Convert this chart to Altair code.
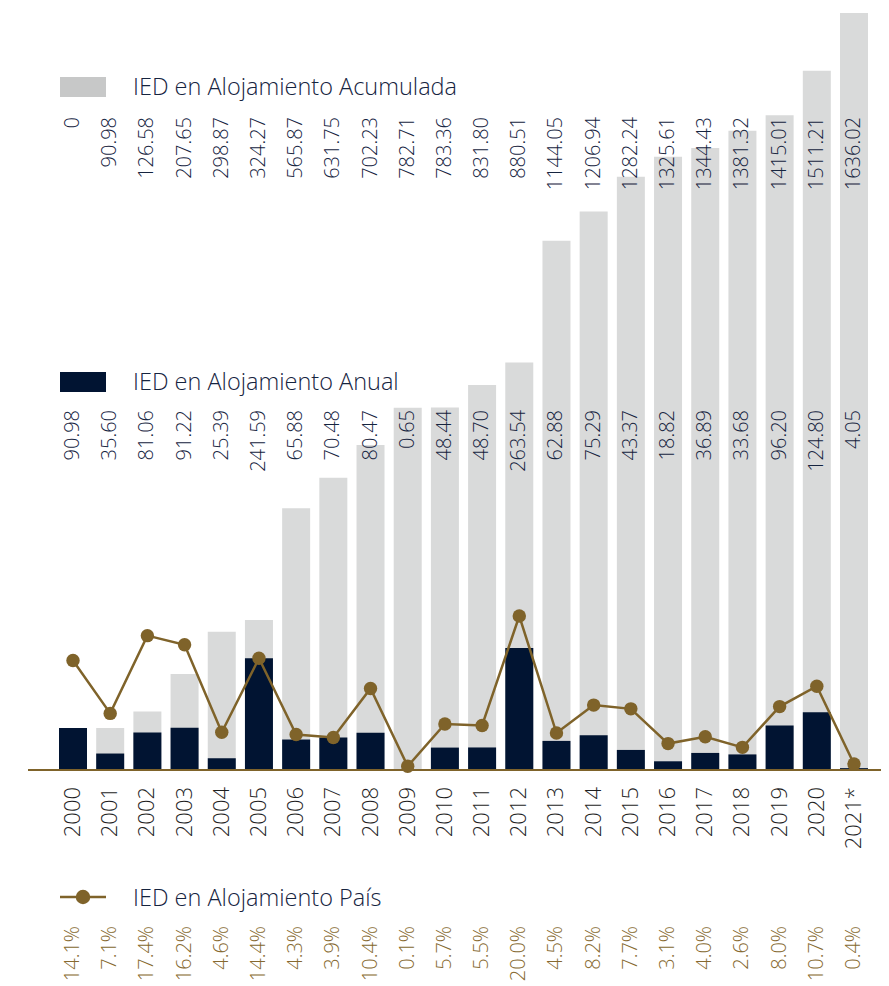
import altair as alt
import pandas as pd

years = ["2000", "2001", "2002", "2003", "2004", "2005", "2006", "2007", "2008", "2009", "2010",
         "2011", "2012", "2013", "2014", "2015", "2016", "2017", "2018", "2019", "2020", "2021*"]
acumulada = [0, 90.98, 126.58, 207.65, 298.87, 324.27, 565.87, 631.75, 702.23, 782.71, 783.36,
             831.80, 880.51, 1144.05, 1206.94, 1282.24, 1325.61, 1344.43, 1381.32, 1415.01, 1511.21, 1636.02]
anual = [90.98, 35.60, 81.06, 91.22, 25.39, 241.59, 65.88, 70.48, 80.47, 0.65, 48.44,
         48.70, 263.54, 62.88, 75.29, 43.37, 18.82, 36.89, 33.68, 96.20, 124.80, 4.05]
pais = [14.1, 7.1, 17.4, 16.2, 4.6, 14.4, 4.3, 3.9, 10.4, 0.1, 5.7,
        5.5, 20.0, 4.5, 8.2, 7.7, 3.1, 4.0, 2.6, 8.0, 10.7, 0.4]

legend_labels = ["IED en Alojamiento Acumulada", "IED en Alojamiento Anual", "IED en Alojamiento País"]

GRAY = "#d9dada"
GRAY_SW = "#c7c8c8"
NAVY = "#011432"
GOLD = "#7f632a"
GOLD_TXT = "#86692f"
TXT = "#16243f"
FONT = "Open Sans"
FS = 20

df = pd.DataFrame({
    "year": years,
    "acum": acumulada,
    "anual": anual,
    "pais": pais,
})
df["acum_lbl"] = ["0" if v == 0 else f"{v:.2f}" for v in acumulada]
df["anual_lbl"] = [f"{v:.2f}" for v in anual]
df["pais_lbl"] = [f"{v:.1f}%" for v in pais]

xenc = alt.X("year:N", sort=years, axis=None,
             scale=alt.Scale(range=[31, 840], paddingInner=0.247, paddingOuter=0))
ybar = alt.Scale(domain=[0, 1636.02], nice=False, zero=True)

base = alt.Chart(df)

gray = base.mark_bar(color=GRAY).encode(x=xenc, y=alt.Y("acum:Q", scale=ybar, axis=None))
navy = base.mark_bar(color=NAVY).encode(x=xenc, y=alt.Y("anual:Q", scale=ybar, axis=None))

one = pd.DataFrame({"k": [0]})
baseline = alt.Chart(one).mark_rule(color=GOLD, strokeWidth=2).encode(
    x=alt.value(0), x2=alt.value(853), y=alt.value(757))

ypct = alt.Y("pais:Q", axis=None, scale=alt.Scale(domain=[-0.4, 99.9], nice=False, zero=False))
line = base.mark_line(color=GOLD, strokeWidth=2.5).encode(x=xenc, y=ypct)
pts = base.mark_circle(color=GOLD, opacity=1, size=180).encode(x=xenc, y=ypct)

def vtext(field, ypix, color, size=FS):
    return base.mark_text(angle=270, align="right", baseline="middle", font=FONT,
                          fontWeight=300, fontSize=size, color=color).encode(
        x=xenc, y=alt.value(ypix), text=f"{field}:N")

t_acum = vtext("acum_lbl", 104, TXT)
t_anual = vtext("anual_lbl", 397, TXT)
t_year = vtext("year", 774, "#1e1e1e", 22)
t_pais = vtext("pais_lbl", 913, GOLD_TXT)

sw1 = alt.Chart(one).mark_rect(color=GRAY_SW).encode(
    x=alt.value(32), x2=alt.value(78), y=alt.value(64), y2=alt.value(84))
sw2 = alt.Chart(one).mark_rect(color=NAVY).encode(
    x=alt.value(32), x2=alt.value(78), y=alt.value(359), y2=alt.value(379))
sw3l = alt.Chart(one).mark_rule(color=GOLD, strokeWidth=2.5).encode(
    x=alt.value(32), x2=alt.value(78), y=alt.value(884))
sw3p = alt.Chart(one).mark_circle(color=GOLD, opacity=1, size=210).encode(
    x=alt.value(55), y=alt.value(884))

def ltext(label, ypix):
    return alt.Chart(pd.DataFrame({"t": [label]})).mark_text(
        align="left", baseline="middle", font=FONT, fontWeight=300, fontSize=23.5, color=TXT
    ).encode(x=alt.value(105), y=alt.value(ypix), text="t:N")

l1 = ltext(legend_labels[0], 75)
l2 = ltext(legend_labels[1], 370)
l3 = ltext(legend_labels[2], 886)

chart = alt.layer(
    gray, navy, baseline, line, pts, t_acum, t_anual, t_year, t_pais,
    sw1, sw2, sw3l, sw3p, l1, l2, l3
).resolve_scale(y="independent").properties(
    width=853, height=757,
    padding={"left": 20, "top": 5, "right": 0, "bottom": 212},
    autosize=alt.AutoSizeParams(type="none"),
).configure_view(stroke=None)

chart.save("out.html", embed_options={"renderer": "svg", "actions": False})
